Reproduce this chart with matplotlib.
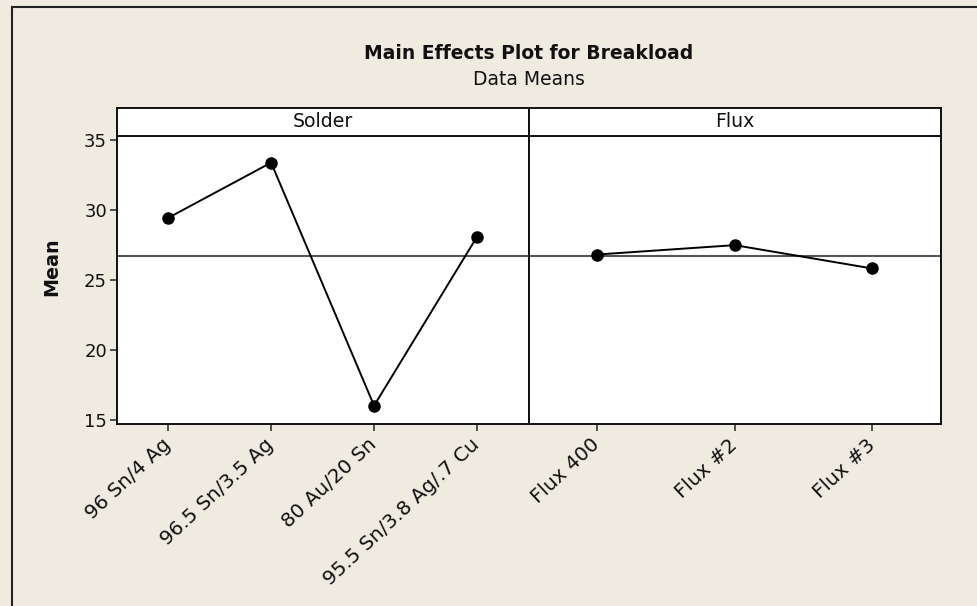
import matplotlib
matplotlib.use("Agg")
import matplotlib.pyplot as plt
from matplotlib.lines import Line2D

# ---- data ----
solder_levels = ["96 Sn/4 Ag", "96.5 Sn/3.5 Ag", "80 Au/20 Sn", "95.5 Sn/3.8 Ag/.7 Cu"]
solder_means = [29.45, 33.4, 16.02, 28.1]
flux_levels = ["Flux 400", "Flux #2", "Flux #3"]
flux_means = [26.83, 27.5, 25.83]
grand_mean = 26.73
yticks = [15, 20, 25, 30, 35]
panel_titles = ["Solder", "Flux"]

W, H = 977, 606
bg = "#EFEBE1"
plt.rcParams["font.family"] = ["DejaVu Sans"]
fig = plt.figure(figsize=(W / 100, H / 100), dpi=100, facecolor=bg)

def fx(px):
    return px / W

def fy(py):
    return 1 - py / H

x0, xm, x1 = 116.7, 528.5, 941.0
ytop, ybot = 135.5, 424.0
strip_top = 108.0

ylim = (14.71, 35.34)
panels = [(solder_levels, solder_means, x0, xm), (flux_levels, flux_means, xm, x1)]
for i, (levels, means, a, b) in enumerate(panels):
    ax = fig.add_axes([fx(a), fy(ybot), fx(b - a), fy(ytop) - fy(ybot)])
    ax.set_facecolor("white")
    xs = list(range(1, len(levels) + 1))
    ax.axhline(grand_mean, color="#555555", lw=1.5, zorder=1)
    ax.plot(xs, means, color="black", lw=1.4, marker="o", markersize=8,
            markerfacecolor="black", markeredgecolor="black", zorder=3)
    ax.set_xlim(0.5, len(levels) + 0.5)
    ax.set_ylim(*ylim)
    ax.set_xticks(xs)
    ax.set_xticklabels(levels, rotation=43, ha="right", va="center",
                       rotation_mode="anchor", fontsize=14.3, color="#111111")
    ax.tick_params(axis="x", direction="out", length=5, width=1.2, pad=8, color="#333333")
    if i == 0:
        ax.set_yticks(yticks)
        ax.set_yticklabels([str(t) for t in yticks], fontsize=13, color="#111111")
        ax.tick_params(axis="y", direction="out", length=5, width=1.2, pad=2, color="#333333")
    else:
        ax.set_yticks([])
    for s in ax.spines.values():
        s.set_linewidth(1.4)
        s.set_color("#111111")
    # strip
    sax = fig.add_axes([fx(a), fy(ytop), fx(b - a), fy(strip_top) - fy(ytop)])
    sax.set_facecolor("white")
    sax.set_xticks([])
    sax.set_yticks([])
    for s in sax.spines.values():
        s.set_linewidth(1.4)
        s.set_color("#111111")
    sax.text(0.5, 0.5, panel_titles[i], ha="center", va="center", fontsize=13.6,
             transform=sax.transAxes, color="#111111")

# y label
fig.text(fx(52), fy(267), "Mean", rotation=90, ha="center", va="center",
         fontsize=13.8, fontweight="bold", color="#111111")

# title
fig.text(fx((x0 + x1) / 2), fy(59), "Main Effects Plot for Breakload", ha="center",
         va="baseline", fontsize=13.5, fontweight="bold", color="#111111")
fig.text(fx((x0 + x1) / 2), fy(85), "Data Means", ha="center", va="baseline",
         fontsize=13.5, color="#111111")

# outer border (top and left)
fig.add_artist(Line2D([fx(12), 1.0], [fy(7), fy(7)], color="#222222", lw=1.5,
                      transform=fig.transFigure))
fig.add_artist(Line2D([fx(12), fx(12)], [fy(7), 0.0], color="#222222", lw=1.5,
                      transform=fig.transFigure))

fig.savefig("out.png", dpi=100, facecolor=bg)
